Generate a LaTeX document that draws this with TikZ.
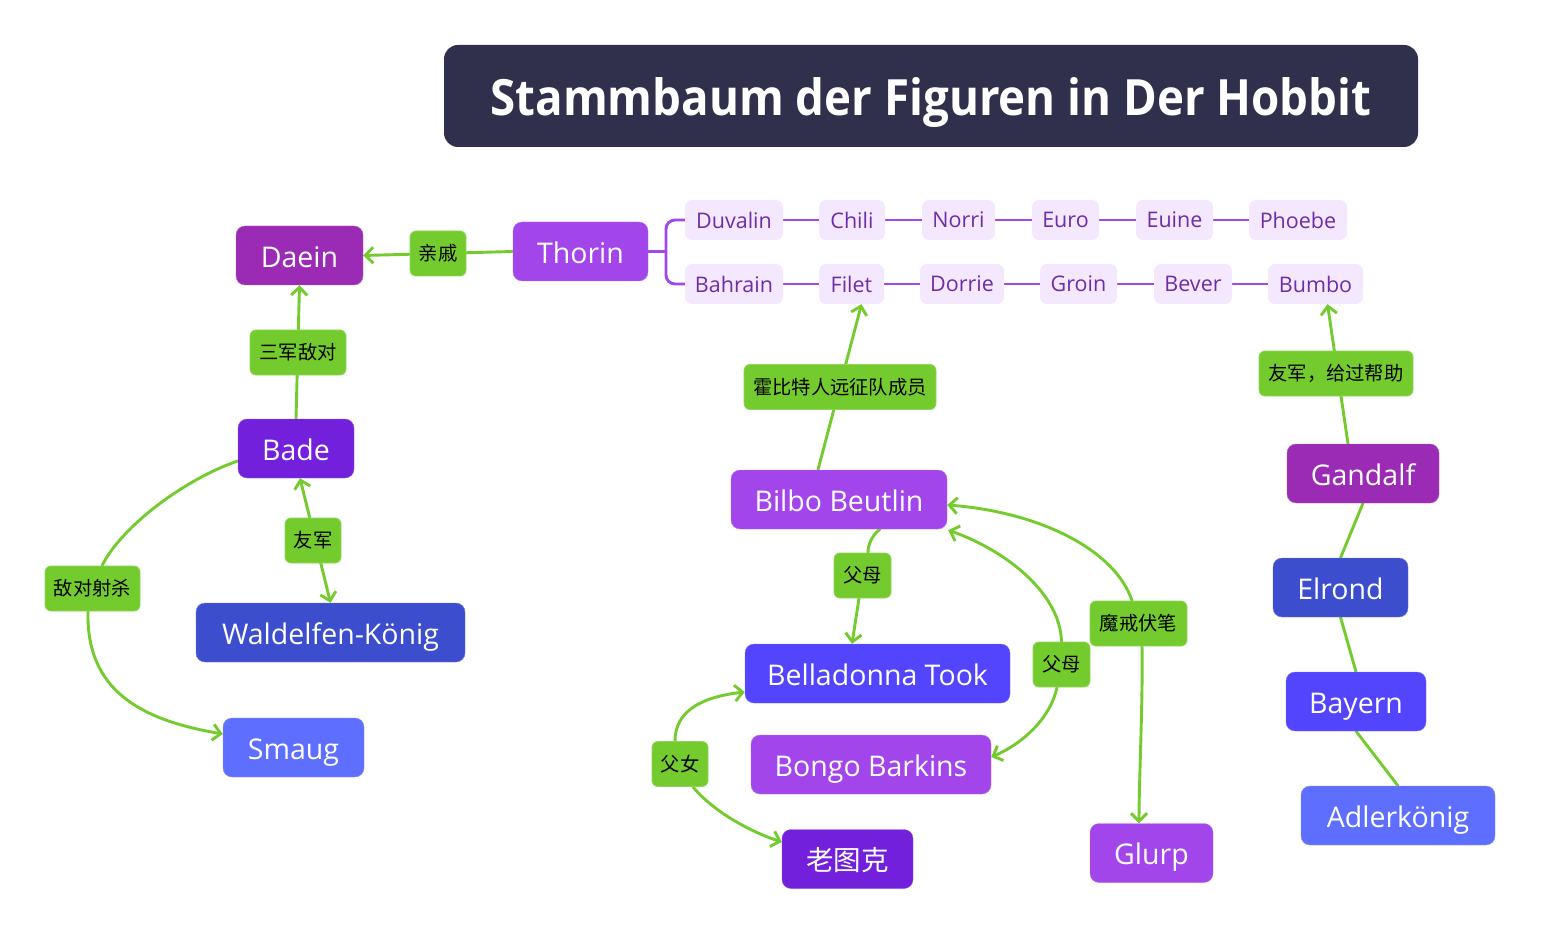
\documentclass[tikz,border=0pt]{standalone}
\usepackage{fontspec}
\setmainfont{Open Sans}
\newfontfamily\cjk{Noto Sans CJK SC}
\usetikzlibrary{arrows.meta,calc,backgrounds}
\definecolor{cTitle}{HTML}{30304C}
\definecolor{cMag}{HTML}{9B2BB5}
\definecolor{cPur}{HTML}{A245EB}
\definecolor{cVio}{HTML}{7220DC}
\definecolor{cInd}{HTML}{3C4DCE}
\definecolor{cBlu}{HTML}{5245FD}
\definecolor{cSky}{HTML}{5E6EFF}
\definecolor{cGreen}{HTML}{74CB2D}
\definecolor{cRow}{HTML}{F3E8FD}
\definecolor{cRowText}{HTML}{6F2DA8}
\definecolor{cRowLine}{HTML}{A346EA}
\begin{document}
\begin{tikzpicture}[x=1pt,y=-1pt,
  mainbox/.style={rounded corners=9pt, text=white, inner sep=0pt, minimum height=59,
    text height=23.5pt, text depth=0pt,
    font=\fontsize{28.5}{33}\selectfont},
  lbl/.style={fill=cGreen, draw=cGreen!80!white, line width=0.8pt, rounded corners=6pt, inner sep=0pt, minimum height=45,
    text=black, font=\cjk\fontsize{19.3}{23}\selectfont},
  rowbox/.style={fill=cRow, text=cRowText, rounded corners=7pt, inner sep=0pt, minimum height=40,
    font=\fontsize{21.5}{25}\selectfont},
  edge/.style={draw=cGreen, line width=2.9pt, line cap=round},
  arr/.style={-{Straight Barb[length=8pt,width=16pt]}},
  rowline/.style={draw=cRowLine, line width=2.9pt},
]
\useasboundingbox (0,0) rectangle (1541,949);

% title
\node[fill=cTitle, rounded corners=14pt, minimum width=974, minimum height=102, inner sep=0pt,
  text height=40pt, text depth=0pt,
  text=white, font=\bfseries\fontsize{50}{56}\selectfont] (title) at (931,96)
  {\scalebox{0.913}[1]{Stammbaum der Figuren in Der Hobbit}};

% main nodes
\node[mainbox, fill=cMag, draw=cMag!75!white, minimum width=127] (daein) at (299.5,255.5) {Daein};
\node[mainbox, fill=cPur, draw=cPur!75!white, minimum width=135] (thorin) at (580.5,251.5) {Thorin};
\node[mainbox, fill=cVio, draw=cVio!75!white, minimum width=116] (bade) at (296,448.5) {Bade};
\node[mainbox, fill=cInd, draw=cInd!75!white, minimum width=269] (waldelfen) at (330.5,632.5) {Waldelfen-König};
\node[mainbox, fill=cSky, draw=cSky!75!white, minimum width=141] (smaug) at (293.5,747.5) {Smaug};
\node[mainbox, fill=cPur, draw=cPur!75!white, minimum width=216] (bilbo) at (839,499.5) {Bilbo Beutlin};
\node[mainbox, fill=cBlu, draw=cBlu!75!white, minimum width=265] (belladonna) at (877.5,673.5) {Belladonna Took};
\node[mainbox, fill=cPur, draw=cPur!75!white, minimum width=240] (bongo) at (871,764.5) {Bongo Barkins};
\node[mainbox, fill=cVio, draw=cVio!75!white, minimum width=131, font=\cjk\fontsize{27.5}{32}\selectfont] (laotuke) at (847.5,859) {老图克};
\node[mainbox, fill=cPur, draw=cPur!75!white, minimum width=123] (glurp) at (1151.5,853) {Glurp};
\node[mainbox, fill=cMag, draw=cMag!75!white, minimum width=152] (gandalf) at (1363,473.5) {Gandalf};
\node[mainbox, fill=cInd, draw=cInd!75!white, minimum width=135] (elrond) at (1340.5,587.5) {Elrond};
\node[mainbox, fill=cBlu, draw=cBlu!75!white, minimum width=140] (bayern) at (1356,701.5) {Bayern};
\node[mainbox, fill=cSky, draw=cSky!75!white, minimum width=194] (adler) at (1398,815.5) {Adlerkönig};

% labels
\node[lbl, minimum width=56] (qinqi) at (438,253.5) {亲戚};
\node[lbl, minimum width=96] (sanjun) at (298,352.5) {三军敌对};
\node[lbl, minimum width=56] (youjun) at (313,540.5) {友军};
\node[lbl, minimum width=95] (diduisha) at (92.5,588.5) {敌对射杀};
\node[lbl, minimum width=192] (hobbitlbl) at (840,387) {霍比特人远征队成员};
\node[lbl, minimum width=57] (fumuA) at (862.5,575.5) {父母};
\node[lbl, minimum width=57] (fumuB) at (1061.5,664.5) {父母};
\node[lbl, minimum width=97] (mojie) at (1138.5,623.5) {魔戒伏笔};
\node[lbl, minimum width=56] (funv) at (680,764) {父女};
\node[lbl, minimum width=154] (youjunB) at (1336,373.5) {友军，给过帮助};

% rows
\node[rowbox, minimum width=98] (duvalin) at (734,220) {Duvalin};
\node[rowbox, minimum width=66] (chili) at (852,220) {Chili};
\node[rowbox, minimum width=73] (norri) at (958.5,220) {Norri};
\node[rowbox, minimum width=67] (euro) at (1065.5,220) {Euro};
\node[rowbox, minimum width=77] (euine) at (1174.5,220) {Euine};
\node[rowbox, minimum width=98] (phoebe) at (1298,220) {Phoebe};
\node[rowbox, minimum width=98] (bahrain) at (734,284) {Bahrain};
\node[rowbox, minimum width=65] (filet) at (851.5,284) {Filet};
\node[rowbox, minimum width=84] (dorrie) at (962,284) {Dorrie};
\node[rowbox, minimum width=77] (groin) at (1078.5,284) {Groin};
\node[rowbox, minimum width=78] (bever) at (1193,284) {Bever};
\node[rowbox, minimum width=95] (bumbo) at (1315.5,284) {Bumbo};

\coordinate (brk) at (666,251.5);

\begin{scope}[on background layer]
  % bracket and row lines
  \draw[rowline] (thorin.east) -- (brk);
  \draw[rowline, rounded corners=9pt] (duvalin.west) -| (brk) |- (bahrain.west);
  \draw[rowline] (duvalin) -- (chili) (chili) -- (norri) (norri) -- (euro) (euro) -- (euine) (euine) -- (phoebe);
  \draw[rowline] (bahrain) -- (filet) (filet) -- (dorrie) (dorrie) -- (groin) (groin) -- (bever) (bever) -- (bumbo);

  % left
  \draw[edge, arr] (thorin.west) -- (daein.east);
  \draw[edge, arr] (bade.north) -- (daein.south);
  \draw[edge, {Straight Barb[length=8pt,width=16pt]}-{Straight Barb[length=8pt,width=16pt]}]
    ($(bade.south)+(4,0)$) -- (waldelfen.north);
  \draw[edge] ($(bade.west)+(0,12.5)$) .. controls (185,479) and (122,526) .. ($(diduisha.north)+(9.5,0)$);
  \draw[edge, arr] ($(diduisha.south)+(-4.5,0)$) .. controls (86,690) and (140,720) .. ($(smaug.west)+(0,-13.5)$);

  % middle
  \draw[edge, arr] ($(bilbo.north)+(-21,0)$) -- ($(filet.south)+(10,0)$);
  \draw[edge] ($(bilbo.south)+(41,0)$) .. controls (871,536) and (868,546) .. ($(fumuA.north)+(5.5,0)$);
  \draw[edge, arr] ($(fumuA.south)+(-3.5,0)$) -- ($(belladonna.north)+(-25.5,0)$);
  \draw[edge, arr] (fumuB.north) .. controls (1060,590) and (1000,548) .. ($(bilbo.south east)+(1,1)$);
  \draw[edge, arr] ($(fumuB.south)+(-4.5,0)$) .. controls (1050,720) and (1020,745) .. ($(bongo.east)+(0,-7.5)$);
  \draw[edge, arr] ($(mojie.north)+(-6.5,0)$) .. controls (1115,550) and (1040,512) .. ($(bilbo.east)+(0,5.5)$);
  \draw[edge, arr] ($(mojie.south)+(3.5,0)$) .. controls (1143,700) and (1139,780) .. ($(glurp.north)+(-12.5,0)$);
  \draw[edge, arr] ($(funv.north)+(-5,0)$) .. controls (675,712) and (700,697) .. ($(belladonna.west)+(0,18.5)$);
  \draw[edge, arr] ($(funv.south)+(13,0)$) .. controls (710,808) and (745,830) .. ($(laotuke.west)+(0,-17)$);

  % right
  \draw[edge, arr] ($(gandalf.north)+(-15,0)$) -- ($(bumbo.south)+(12,0)$);
  \draw[edge] (gandalf.south) -- (elrond.north);
  \draw[edge] (elrond.south) -- (bayern.north);
  \draw[edge] (bayern.south) -- (adler.north);
\end{scope}
\end{tikzpicture}
\end{document}
